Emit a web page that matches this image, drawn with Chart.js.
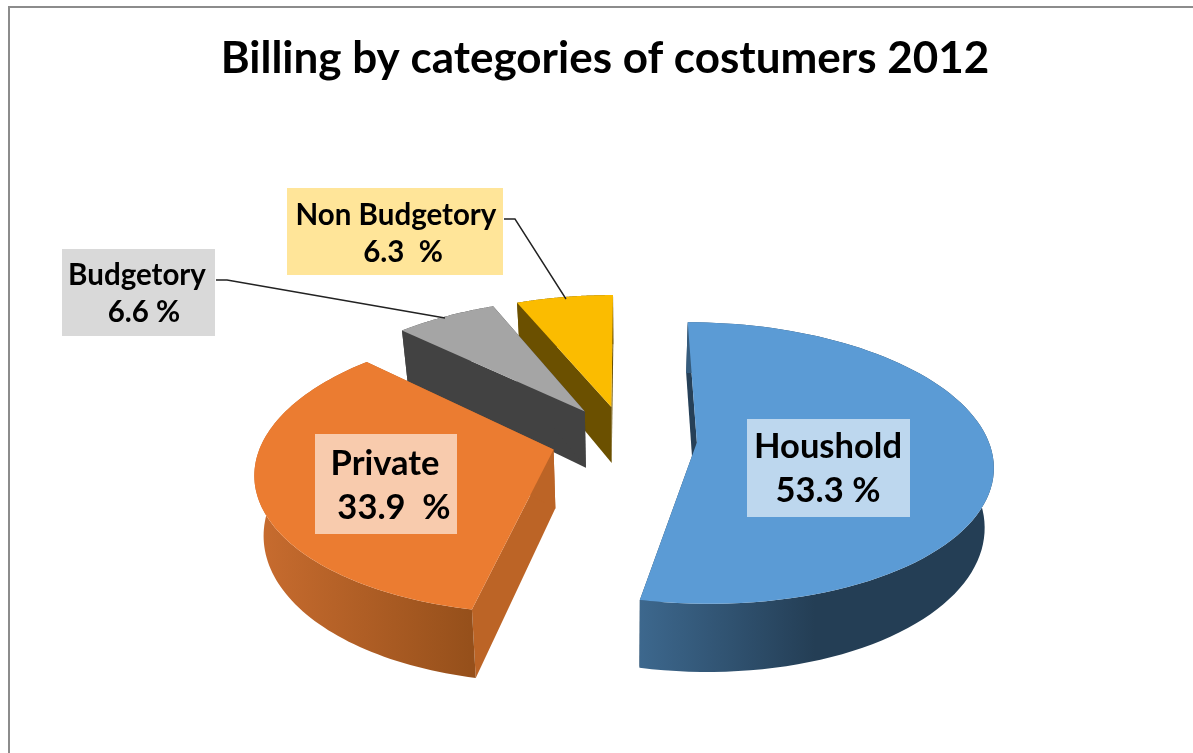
<!DOCTYPE html>
<html>
<head>
<meta charset="utf-8">
<title>Billing by categories of costumers 2012</title>
<script src="https://cdn.jsdelivr.net/npm/chart.js@4/dist/chart.umd.min.js"></script>
<style>
  body { margin: 0; background: #fff; overflow: hidden; }
  #frame { position: absolute; left: 8px; top: 6px; width: 1185px; height: 747px;
           border-left: 2px solid #8c8c8c; border-top: 2px solid #8c8c8c; }
  canvas { position: absolute; left: 0; top: 0; }
</style>
</head>
<body>
<div id="frame"></div>
<canvas id="pieChart" width="1193" height="753"></canvas>
<script>
var categories = ['Houshold', 'Private', 'Budgetory', 'Non Budgetory'];
var shares = [53.3, 33.9, 6.6, 6.3];
var shareLabels = ['53.3 %', '33.9  %', '6.6 %', '6.3  %'];

var topColors = ['#5b9bd5', '#eb7c31', '#a5a5a5', '#fbbc00'];
var cutColors = ['#264058', '#bc6426', '#424242', '#6b5000'];
var rimColors = [['#3d688e', '#243e55'], ['#c86c2f', '#96501b'], ['#424242', '#424242'], ['#6b5000', '#6b5000']];
var rimSpans = [[638, 815], [258, 470], [400, 500], [516, 612]];

// label boxes, one per category
var boxes = [
  { x: 747, y: 419, w: 163, h: 98, fill: '#bdd7ee', font: 34.5, cx: 828, cy2: 828, y1: 447, y2: 491 },
  { x: 315, y: 434, w: 142, h: 100, fill: '#f8cbad', font: 34.5, cx: 385, cy2: 394, y1: 464, y2: 508 },
  { x: 62, y: 249, w: 153, h: 87, fill: '#d9d9d9', font: 29.5, cx: 137, cy2: 144, y1: 275, y2: 312 },
  { x: 287, y: 188, w: 216, h: 87, fill: '#ffe599', font: 29.5, cx: 396, cy2: 403, y1: 215, y2: 252 }
];
var leaders = [null, null, [[216, 280], [227, 280], [445, 318]], [[504, 219], [515, 219], [566, 299]]];

// perspective used for the tilted pie
var centerX = 625, centerY = 439, tilt = 0.47, persp = 0.0005, depth = 58, lowShrink = 0.975;

function scaleAt(v) {
  return 1 / (1 - persp * v);
}

function project(u, v, low) {
  var s = scaleAt(v);
  if (low) return [centerX + u * s * lowShrink, centerY + tilt * v * s + depth * s];
  return [centerX + u * s, centerY + tilt * v * s];
}

function tracePath(ctx, pts) {
  ctx.beginPath();
  pts.forEach(function(p, i) {
    if (i == 0) ctx.moveTo(p[0], p[1]);
    else ctx.lineTo(p[0], p[1]);
  });
  ctx.closePath();
}

function drawSlice(ctx, arc, i) {
  var mid = (arc.startAngle + arc.endAngle) / 2;
  var u0 = arc.options.offset * Math.cos(mid);
  var v0 = arc.options.offset * Math.sin(mid);
  var rimTop = [], rimLow = [];
  for (var n = 0; n <= 90; n++) {
    var a = arc.startAngle + (arc.endAngle - arc.startAngle) * n / 90;
    var u = u0 + arc.outerRadius * Math.cos(a);
    var v = v0 + arc.outerRadius * Math.sin(a);
    rimTop.push(project(u, v, false));
    rimLow.push(project(u, v, true));
  }
  var apexTop = project(u0, v0, false);
  var apexLow = project(u0, v0, true);

  // the two cut walls
  ctx.fillStyle = cutColors[i];
  tracePath(ctx, [apexTop, rimTop[0], rimLow[0], apexLow]);
  ctx.fill();
  tracePath(ctx, [apexTop, rimTop[90], rimLow[90], apexLow]);
  ctx.fill();

  // outer wall
  var grad = ctx.createLinearGradient(rimSpans[i][0], 0, rimSpans[i][1], 0);
  grad.addColorStop(0, rimColors[i][0]);
  grad.addColorStop(1, rimColors[i][1]);
  ctx.fillStyle = grad;
  tracePath(ctx, rimTop.concat(rimLow.slice().reverse()));
  ctx.fill();

  // top face
  ctx.fillStyle = topColors[i];
  tracePath(ctx, [apexTop].concat(rimTop));
  ctx.fill();
}

function drawLabels(ctx) {
  ctx.textAlign = 'center';
  ctx.textBaseline = 'middle';
  boxes.forEach(function(b, i) {
    if (leaders[i]) {
      ctx.strokeStyle = '#222222';
      ctx.lineWidth = 1.4;
      ctx.beginPath();
      leaders[i].forEach(function(p, n) {
        if (n == 0) ctx.moveTo(p[0], p[1]);
        else ctx.lineTo(p[0], p[1]);
      });
      ctx.stroke();
    }
    ctx.fillStyle = b.fill;
    ctx.fillRect(b.x, b.y, b.w, b.h);
    ctx.fillStyle = '#000';
    ctx.font = 'bold ' + b.font + 'px Lato';
    ctx.fillText(categories[i], b.cx, b.y1);
    ctx.fillText(shareLabels[i], b.cy2, b.y2);
  });
}

var tiltedPie = {
  id: 'tiltedPie',
  // slices are painted from the arc geometry the controller worked out
  beforeDatasetsDraw: function(chart) {
    var arcs = chart.getDatasetMeta(0).data;
    var ctx = chart.ctx;
    ctx.save();
    for (var i = arcs.length - 1; i >= 0; i--) {
      drawSlice(ctx, arcs[i], i);
    }
    drawLabels(ctx);
    ctx.restore();
    return false;
  }
};

var ctxP = document.getElementById('pieChart').getContext('2d');
var myChart = new Chart(ctxP, {
  type: 'pie',
  data: {
    labels: categories,
    datasets: [{
      data: shares,
      backgroundColor: topColors,
      borderWidth: 0,
      offset: [72, 74, 73, 72]
    }]
  },
  options: {
    responsive: false,
    animation: false,
    radius: 291,
    layout: { padding: { left: 17, top: 6 } },
    plugins: {
      legend: { display: false },
      tooltip: { enabled: false },
      title: {
        display: true,
        text: 'Billing by categories of costumers 2012',
        color: '#000',
        font: { family: 'Lato', size: 44, weight: 'bold' },
        padding: { top: 26, bottom: 10 }
      }
    }
  },
  plugins: [tiltedPie]
});
</script>
</body>
</html>
